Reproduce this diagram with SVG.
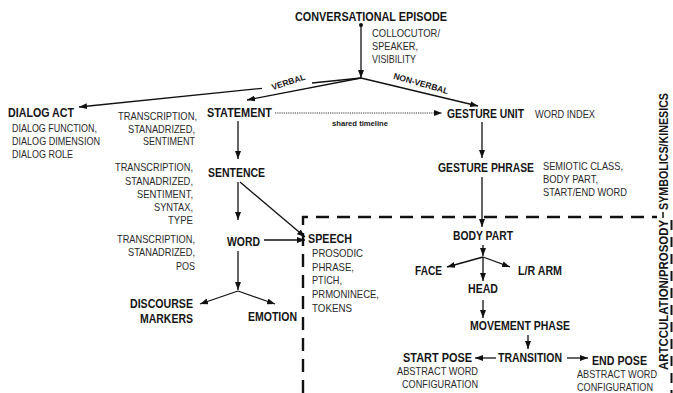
<svg xmlns="http://www.w3.org/2000/svg" width="673" height="393" viewBox="0 0 673 393">
<style>
text{font-family:"Liberation Sans",Arial,sans-serif;fill:#151515}
.b{font-weight:bold;font-size:13px}
.n{font-size:11.5px;fill:#2a2a2a}
.s{font-weight:bold;font-size:7.5px}
.lab{font-weight:bold;font-size:8.5px}
.side{font-weight:bold;font-size:13.5px}
.c{fill:none;stroke:#111;stroke-width:1.3}
.dot{fill:none;stroke:#222;stroke-width:0.9;stroke-dasharray:1.2 1}
.dash{fill:none;stroke:#111;stroke-width:2.4;stroke-dasharray:13 8}
.dash2{fill:none;stroke:#111;stroke-width:2;stroke-dasharray:10 7}
</style>
<defs>
<marker id="ah" markerUnits="userSpaceOnUse" markerWidth="8" markerHeight="6" refX="8" refY="3" orient="auto"><path d="M0,0 L8,3 L0,6 z" fill="#111"/></marker>
</defs>

<g id="connectors">
<circle cx="361" cy="25" r="2" fill="#111"/>
<line class="c" x1="361" y1="25" x2="361" y2="78" marker-end="url(#ah)"/>
<line class="c" x1="361" y1="78" x2="247" y2="100" marker-end="url(#ah)"/>
<line class="c" x1="361" y1="78" x2="312" y2="83"/>
<line class="c" x1="262" y1="88.3" x2="79" y2="107" marker-end="url(#ah)"/>
<line class="c" x1="361" y1="78" x2="478" y2="106" marker-end="url(#ah)"/>
<line class="dot" x1="275" y1="113" x2="442" y2="113" marker-end="url(#ah)"/>
<line class="c" x1="238" y1="121" x2="238" y2="159" marker-end="url(#ah)"/>
<line class="c" x1="238" y1="182" x2="238" y2="220" marker-end="url(#ah)"/>
<line class="c" x1="240" y1="182" x2="305" y2="237" marker-end="url(#ah)"/>
<line class="c" x1="264" y1="240" x2="305" y2="240" marker-end="url(#ah)"/>
<line class="c" x1="238" y1="251" x2="238" y2="290" marker-end="url(#ah)"/>
<line class="c" x1="238" y1="291" x2="200" y2="304" marker-end="url(#ah)"/>
<line class="c" x1="238" y1="291" x2="275" y2="304" marker-end="url(#ah)"/>
<line class="c" x1="482" y1="122" x2="482" y2="158" marker-end="url(#ah)"/>
<line class="c" x1="482" y1="177" x2="482" y2="227" marker-end="url(#ah)"/>
<line class="c" x1="483" y1="245" x2="483" y2="256" marker-end="url(#ah)"/>
<line class="c" x1="483" y1="257" x2="447" y2="267" marker-end="url(#ah)"/>
<line class="c" x1="483" y1="257" x2="510" y2="267" marker-end="url(#ah)"/>
<line class="c" x1="483" y1="257" x2="483" y2="281" marker-end="url(#ah)"/>
<line class="c" x1="483" y1="300" x2="483" y2="318" marker-end="url(#ah)"/>
<line class="c" x1="528" y1="335" x2="528" y2="349" marker-end="url(#ah)"/>
<line class="c" x1="496" y1="358" x2="475" y2="358" marker-end="url(#ah)"/>
<line class="c" x1="567" y1="358" x2="588" y2="358" marker-end="url(#ah)"/>
<text class="lab" transform="translate(289.3,84.8) rotate(-18)" text-anchor="middle">VERBAL</text>
<text class="lab" transform="translate(420.2,86.3) rotate(16)" text-anchor="middle">NON-VERBAL</text>
<text class="s" x="332" y="126" textLength="56" lengthAdjust="spacingAndGlyphs">shared timeline</text>
</g>

<g id="regions">
<path class="dash" d="M303,393 V217 H657"/>
<line x1="663" y1="212" x2="663" y2="218" stroke="#111" stroke-width="1.5"/>
<line class="dash2" x1="671.5" y1="220" x2="671.5" y2="393"/>
<text class="side" transform="translate(668,210) rotate(-90)" textLength="117" lengthAdjust="spacingAndGlyphs">SYMBOLICS/KINESICS</text>
<text class="side" transform="translate(668,370) rotate(-90)" textLength="150" lengthAdjust="spacingAndGlyphs">ARTCCULATION/PROSODY</text>
</g>

<g id="episode">
<text class="b" x="295" y="21" textLength="152" lengthAdjust="spacingAndGlyphs">CONVERSATIONAL EPISODE</text>
<text class="n" x="372" y="37" textLength="68" lengthAdjust="spacingAndGlyphs">COLLOCUTOR/</text>
<text class="n" x="372" y="50" textLength="46" lengthAdjust="spacingAndGlyphs">SPEAKER,</text>
<text class="n" x="372" y="63" textLength="44" lengthAdjust="spacingAndGlyphs">VISIBILITY</text>
</g>

<g id="dialog-act">
<text class="b" x="8" y="117" textLength="66" lengthAdjust="spacingAndGlyphs">DIALOG ACT</text>
<text class="n" x="12" y="132" textLength="85" lengthAdjust="spacingAndGlyphs">DIALOG FUNCTION,</text>
<text class="n" x="12" y="145" textLength="88" lengthAdjust="spacingAndGlyphs">DIALOG DIMENSION</text>
<text class="n" x="12" y="158" textLength="61" lengthAdjust="spacingAndGlyphs">DIALOG ROLE</text>
</g>

<g id="statement">
<text class="b" x="207" y="117" textLength="65" lengthAdjust="spacingAndGlyphs">STATEMENT</text>
<text class="n" x="118" y="120" textLength="79" lengthAdjust="spacingAndGlyphs">TRANSCRIPTION,</text>
<text class="n" x="128" y="132.5" textLength="67" lengthAdjust="spacingAndGlyphs">STANADRIZED,</text>
<text class="n" x="143" y="145" textLength="52" lengthAdjust="spacingAndGlyphs">SENTIMENT</text>
</g>

<g id="sentence">
<text class="b" x="208" y="177" textLength="57" lengthAdjust="spacingAndGlyphs">SENTENCE</text>
<text class="n" x="115" y="171" textLength="78" lengthAdjust="spacingAndGlyphs">TRANSCRIPTION,</text>
<text class="n" x="125" y="185" textLength="68" lengthAdjust="spacingAndGlyphs">STANADRIZED,</text>
<text class="n" x="137" y="198" textLength="56" lengthAdjust="spacingAndGlyphs">SENTIMENT,</text>
<text class="n" x="154" y="211" textLength="39" lengthAdjust="spacingAndGlyphs">SYNTAX,</text>
<text class="n" x="168" y="224" textLength="25" lengthAdjust="spacingAndGlyphs">TYPE</text>
</g>

<g id="word">
<text class="b" x="227" y="246" textLength="33" lengthAdjust="spacingAndGlyphs">WORD</text>
<text class="n" x="117" y="243" textLength="78" lengthAdjust="spacingAndGlyphs">TRANSCRIPTION,</text>
<text class="n" x="128" y="256" textLength="67" lengthAdjust="spacingAndGlyphs">STANADRIZED,</text>
<text class="n" x="176" y="270" textLength="19" lengthAdjust="spacingAndGlyphs">POS</text>
</g>

<g id="speech">
<text class="b" x="308" y="243" textLength="44" lengthAdjust="spacingAndGlyphs">SPEECH</text>
<text class="n" x="312" y="257" textLength="51" lengthAdjust="spacingAndGlyphs">PROSODIC</text>
<text class="n" x="312" y="271" textLength="42" lengthAdjust="spacingAndGlyphs">PHRASE,</text>
<text class="n" x="312" y="284" textLength="30" lengthAdjust="spacingAndGlyphs">PTICH,</text>
<text class="n" x="312" y="298" textLength="67" lengthAdjust="spacingAndGlyphs">PRMONINECE,</text>
<text class="n" x="312" y="312" textLength="40" lengthAdjust="spacingAndGlyphs">TOKENS</text>
</g>

<g id="discourse-markers">
<text class="b" x="130" y="308" textLength="63" lengthAdjust="spacingAndGlyphs">DISCOURSE</text>
<text class="b" x="140" y="323" textLength="53" lengthAdjust="spacingAndGlyphs">MARKERS</text>
</g>

<g id="emotion">
<text class="b" x="248" y="321" textLength="49" lengthAdjust="spacingAndGlyphs">EMOTION</text>
</g>

<g id="gesture-unit">
<text class="b" x="447" y="118" textLength="77" lengthAdjust="spacingAndGlyphs">GESTURE UNIT</text>
<text class="n" x="535" y="118" textLength="60" lengthAdjust="spacingAndGlyphs">WORD INDEX</text>
</g>

<g id="gesture-phrase">
<text class="b" x="438" y="172" textLength="96" lengthAdjust="spacingAndGlyphs">GESTURE PHRASE</text>
<text class="n" x="543" y="170" textLength="80" lengthAdjust="spacingAndGlyphs">SEMIOTIC CLASS,</text>
<text class="n" x="543" y="183" textLength="55" lengthAdjust="spacingAndGlyphs">BODY PART,</text>
<text class="n" x="543" y="196" textLength="84" lengthAdjust="spacingAndGlyphs">START/END WORD</text>
</g>

<g id="body-part">
<text class="b" x="453" y="240" textLength="60" lengthAdjust="spacingAndGlyphs">BODY PART</text>
</g>

<g id="face">
<text class="b" x="415" y="275" textLength="27" lengthAdjust="spacingAndGlyphs">FACE</text>
</g>

<g id="lr-arm">
<text class="b" x="518" y="275" textLength="44" lengthAdjust="spacingAndGlyphs">L/R ARM</text>
</g>

<g id="head">
<text class="b" x="468" y="293" textLength="30" lengthAdjust="spacingAndGlyphs">HEAD</text>
</g>

<g id="movement-phase">
<text class="b" x="470" y="330" textLength="100" lengthAdjust="spacingAndGlyphs">MOVEMENT PHASE</text>
</g>

<g id="transition">
<text class="b" x="498" y="362" textLength="64" lengthAdjust="spacingAndGlyphs">TRANSITION</text>
</g>

<g id="start-pose">
<text class="b" x="403" y="362" textLength="69" lengthAdjust="spacingAndGlyphs">START POSE</text>
<text class="n" x="397" y="375" textLength="81" lengthAdjust="spacingAndGlyphs">ABSTRACT WORD</text>
<text class="n" x="402" y="388" textLength="76" lengthAdjust="spacingAndGlyphs">CONFIGURATION</text>
</g>

<g id="end-pose">
<text class="b" x="592" y="365" textLength="55" lengthAdjust="spacingAndGlyphs">END POSE</text>
<text class="n" x="577" y="378" textLength="80" lengthAdjust="spacingAndGlyphs">ABSTRACT WORD</text>
<text class="n" x="577" y="391" textLength="76" lengthAdjust="spacingAndGlyphs">CONFIGURATION</text>
</g>
</svg>
